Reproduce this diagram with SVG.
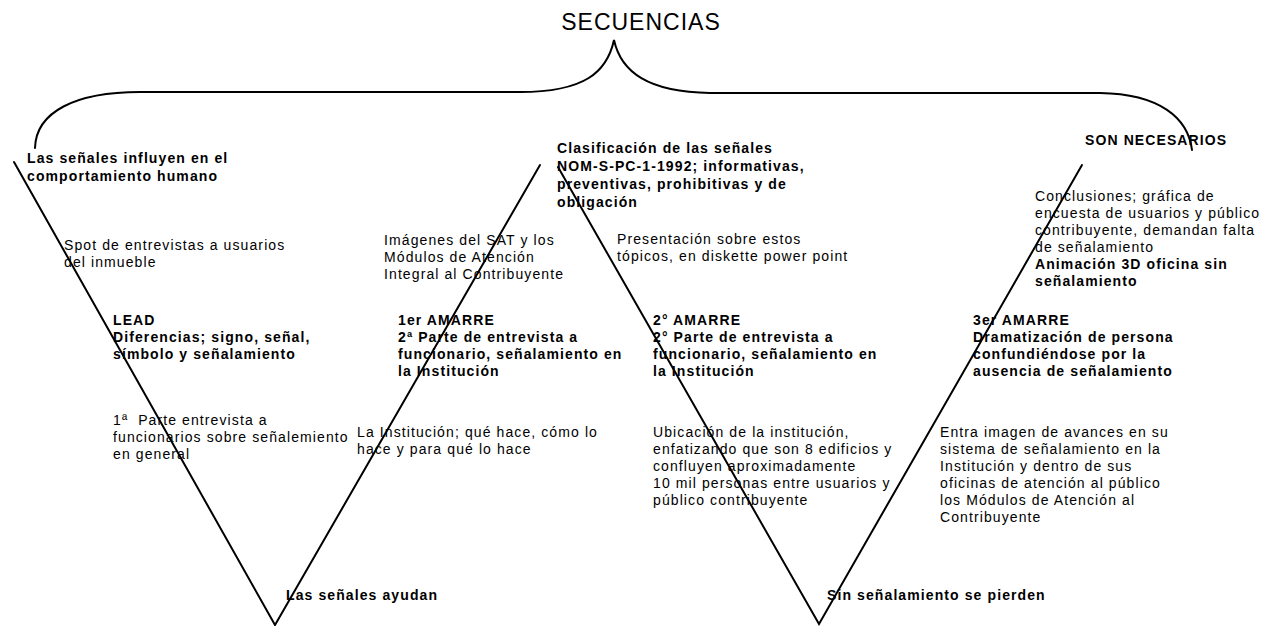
<svg xmlns="http://www.w3.org/2000/svg" width="1262" height="626" viewBox="0 0 1262 626">
<style>
.t{font-family:"Liberation Sans",Arial,sans-serif;font-size:14px;letter-spacing:1.1px;fill:#000}
.b{font-weight:bold}
.title{font-family:"Liberation Sans",Arial,sans-serif;font-size:23px;letter-spacing:1px;fill:#000}
.ln{stroke:#000;stroke-width:2;fill:none;stroke-linecap:round;stroke-linejoin:miter}
</style>
<rect width="1262" height="626" fill="#fff"/>
<g id="connectors">
<path class="ln" d="M35,148 C36,112 75,92 140,92 L520,92 C585,92 607,72 614,40 C621,72 648,92 710,93 L1100,93 C1160,94 1188,118 1192,150"/>
<path class="ln" d="M14,162 L275,625 L540,165"/>
<path class="ln" d="M558,167 L819,624 L1082,165"/>
</g>
<g id="title"><text class="title" x="641" y="30" text-anchor="middle">SECUENCIAS</text></g>
<g id="n-influyen"><text class="t b"><tspan x="27" y="163">Las señales influyen en el</tspan><tspan x="27" y="181">comportamiento humano</tspan></text></g>
<g id="n-clasificacion"><text class="t b"><tspan x="557" y="153">Clasificación de las señales</tspan><tspan x="557" y="171">NOM-S-PC-1-1992; informativas,</tspan><tspan x="557" y="189">preventivas, prohibitivas y de</tspan><tspan x="557" y="207">obligación</tspan></text></g>
<g id="n-necesarios"><text class="t b" x="1085" y="145">SON NECESARIOS</text></g>
<g id="n-spot"><text class="t"><tspan x="64" y="250">Spot de entrevistas a usuarios</tspan><tspan x="64" y="267">del inmueble</tspan></text></g>
<g id="n-imagenes"><text class="t"><tspan x="384" y="245">Imágenes del SAT y los</tspan><tspan x="384" y="262">Módulos de Atención</tspan><tspan x="384" y="279">Integral al Contribuyente</tspan></text></g>
<g id="n-presentacion"><text class="t"><tspan x="617" y="244">Presentación sobre estos</tspan><tspan x="617" y="261">tópicos, en diskette power point</tspan></text></g>
<g id="n-conclusiones"><text class="t"><tspan x="1035" y="201">Conclusiones; gráfica de</tspan><tspan x="1035" y="218">encuesta de usuarios y público</tspan><tspan x="1035" y="235">contribuyente, demandan falta</tspan><tspan x="1035" y="252">de señalamiento</tspan></text><text class="t b"><tspan x="1035" y="269">Animación 3D oficina sin</tspan><tspan x="1035" y="286">señalamiento</tspan></text></g>
<g id="n-lead"><text class="t b"><tspan x="113" y="325">LEAD</tspan><tspan x="113" y="342">Diferencias; signo, señal,</tspan><tspan x="113" y="359">símbolo y señalamiento</tspan></text></g>
<g id="n-amarre1"><text class="t b"><tspan x="398" y="325">1er AMARRE</tspan><tspan x="398" y="342">2ª Parte de entrevista a</tspan><tspan x="398" y="359">funcionario, señalamiento en</tspan><tspan x="398" y="376">la Institución</tspan></text></g>
<g id="n-amarre2"><text class="t b"><tspan x="653" y="325">2° AMARRE</tspan><tspan x="653" y="342">2° Parte de entrevista a</tspan><tspan x="653" y="359">funcionario, señalamiento en</tspan><tspan x="653" y="376">la Institución</tspan></text></g>
<g id="n-amarre3"><text class="t b"><tspan x="973" y="325">3er AMARRE</tspan><tspan x="973" y="342">Dramatización de persona</tspan><tspan x="973" y="359">confundiéndose por la</tspan><tspan x="973" y="376">ausencia de señalamiento</tspan></text></g>
<g id="n-parte1"><text class="t"><tspan x="113" y="425">1ª&#160; Parte entrevista a</tspan><tspan x="113" y="442">funcionarios sobre señalemiento</tspan><tspan x="113" y="459">en general</tspan></text></g>
<g id="n-institucion"><text class="t"><tspan x="357" y="437">La Institución; qué hace, cómo lo</tspan><tspan x="357" y="454">hace y para qué lo hace</tspan></text></g>
<g id="n-ubicacion"><text class="t"><tspan x="653" y="437">Ubicación de la institución,</tspan><tspan x="653" y="454">enfatizando que son 8 edificios y</tspan><tspan x="653" y="471">confluyen aproximadamente</tspan><tspan x="653" y="488">10 mil personas entre usuarios y</tspan><tspan x="653" y="505">público contribuyente</tspan></text></g>
<g id="n-entra"><text class="t"><tspan x="940" y="437">Entra imagen de avances en su</tspan><tspan x="940" y="454">sistema de señalamiento en la</tspan><tspan x="940" y="471">Institución y dentro de sus</tspan><tspan x="940" y="488">oficinas de atención al público</tspan><tspan x="940" y="505">los Módulos de Atención al</tspan><tspan x="940" y="522">Contribuyente</tspan></text></g>
<g id="n-ayudan"><text class="t b" x="286" y="600">Las señales ayudan</text></g>
<g id="n-pierden"><text class="t b" x="827" y="600">Sin señalamiento se pierden</text></g>
</svg>
